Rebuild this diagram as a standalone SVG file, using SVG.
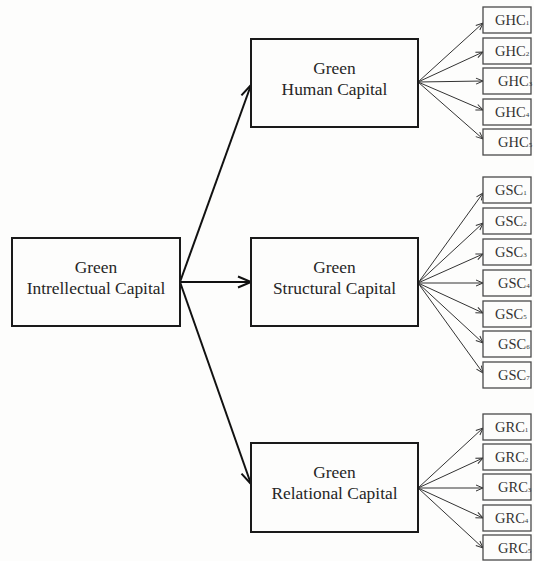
<svg xmlns="http://www.w3.org/2000/svg" width="534" height="561" viewBox="0 0 534 561">
<style>
.bg{fill:#fdfdfc}
.box{fill:#fdfdfc;stroke:#1a1a1a;stroke-width:2}
.sbox{fill:#fdfdfc;stroke:#4a4a4a;stroke-width:1.3}
.lbl{font-family:"Liberation Serif","Times New Roman",serif;font-size:17.4px;fill:#262626;text-anchor:middle}
.sl{font-family:"Liberation Serif","Times New Roman",serif;font-size:14.5px;fill:#333}
.sub{font-size:7px}
.main{stroke:#111;stroke-width:2;fill:none;marker-end:url(#big)}
.thin{stroke:#333;stroke-width:1;fill:none;marker-end:url(#small)}
</style>
<defs>
<marker id="big" markerUnits="userSpaceOnUse" markerWidth="16" markerHeight="14" viewBox="-14 -7 16 14" refX="0" refY="0" orient="auto">
<path d="M-13,-5.5 L0,0 L-13,5.5" fill="none" stroke="#111" stroke-width="2"/>
</marker>
<marker id="small" markerUnits="userSpaceOnUse" markerWidth="10" markerHeight="8" viewBox="-8 -4 10 8" refX="0" refY="0" orient="auto">
<path d="M-7,-3 L0,0 L-7,3" fill="none" stroke="#333" stroke-width="1"/>
</marker>
</defs>
<rect class="bg" x="0" y="0" width="534" height="561"/>

<g id="connectors">
<line class="main" x1="180" y1="282" x2="251" y2="85"/>
<line class="main" x1="180" y1="282" x2="251" y2="282"/>
<line class="main" x1="180" y1="282" x2="251" y2="484"/>

<line class="thin" x1="418" y1="82" x2="483" y2="23"/>
<line class="thin" x1="418" y1="82" x2="483" y2="52"/>
<line class="thin" x1="418" y1="82" x2="483" y2="81"/>
<line class="thin" x1="418" y1="82" x2="483" y2="110"/>
<line class="thin" x1="418" y1="82" x2="483" y2="139"/>

<line class="thin" x1="418" y1="283" x2="483" y2="193"/>
<line class="thin" x1="418" y1="283" x2="483" y2="223"/>
<line class="thin" x1="418" y1="283" x2="483" y2="254"/>
<line class="thin" x1="418" y1="283" x2="483" y2="283"/>
<line class="thin" x1="418" y1="283" x2="483" y2="313"/>
<line class="thin" x1="418" y1="283" x2="483" y2="343"/>
<line class="thin" x1="418" y1="283" x2="483" y2="373"/>

<line class="thin" x1="418" y1="488" x2="483" y2="428"/>
<line class="thin" x1="418" y1="488" x2="483" y2="458"/>
<line class="thin" x1="418" y1="488" x2="483" y2="488"/>
<line class="thin" x1="418" y1="488" x2="483" y2="518"/>
<line class="thin" x1="418" y1="488" x2="483" y2="548"/>
</g>

<g id="gic">
<rect class="box" x="12" y="238" width="168" height="88"/>
<text class="lbl" x="96" y="273">Green</text>
<text class="lbl" x="96" y="294">Intrellectual Capital</text>
</g>
<g id="ghc">
<rect class="box" x="251" y="39" width="167" height="88"/>
<text class="lbl" x="334.5" y="74">Green</text>
<text class="lbl" x="334.5" y="95">Human Capital</text>
</g>
<g id="gsc">
<rect class="box" x="251" y="238" width="167" height="88"/>
<text class="lbl" x="334.5" y="273">Green</text>
<text class="lbl" x="334.5" y="294">Structural Capital</text>
</g>
<g id="grc">
<rect class="box" x="251" y="443" width="167" height="89"/>
<text class="lbl" x="334.5" y="478">Green</text>
<text class="lbl" x="334.5" y="499">Relational Capital</text>
</g>

<g id="ghc1"><rect class="sbox" x="483" y="7" width="48" height="26"/><text class="sl" x="495" y="25">GHC<tspan class="sub">1</tspan></text></g>
<g id="ghc2"><rect class="sbox" x="483" y="38" width="48" height="26"/><text class="sl" x="495" y="56">GHC<tspan class="sub">2</tspan></text></g>
<g id="ghc3"><rect class="sbox" x="483" y="68" width="48" height="26"/><text class="sl" x="498" y="86">GHC<tspan class="sub">3</tspan></text></g>
<g id="ghc4"><rect class="sbox" x="483" y="99" width="48" height="26"/><text class="sl" x="495" y="117">GHC<tspan class="sub">4</tspan></text></g>
<g id="ghc5"><rect class="sbox" x="483" y="129" width="48" height="26"/><text class="sl" x="498" y="147">GHC<tspan class="sub">5</tspan></text></g>

<g id="gsc1"><rect class="sbox" x="483" y="177" width="48" height="26"/><text class="sl" x="495" y="195">GSC<tspan class="sub">1</tspan></text></g>
<g id="gsc2"><rect class="sbox" x="483" y="208" width="48" height="26"/><text class="sl" x="495" y="226">GSC<tspan class="sub">2</tspan></text></g>
<g id="gsc3"><rect class="sbox" x="483" y="239" width="48" height="26"/><text class="sl" x="495" y="257">GSC<tspan class="sub">3</tspan></text></g>
<g id="gsc4"><rect class="sbox" x="483" y="270" width="48" height="26"/><text class="sl" x="498" y="288">GSC<tspan class="sub">4</tspan></text></g>
<g id="gsc5"><rect class="sbox" x="483" y="301" width="48" height="26"/><text class="sl" x="495" y="319">GSC<tspan class="sub">5</tspan></text></g>
<g id="gsc6"><rect class="sbox" x="483" y="331" width="48" height="26"/><text class="sl" x="498" y="349">GSC<tspan class="sub">6</tspan></text></g>
<g id="gsc7"><rect class="sbox" x="483" y="362" width="48" height="26"/><text class="sl" x="498" y="380">GSC<tspan class="sub">7</tspan></text></g>

<g id="grc1"><rect class="sbox" x="483" y="414" width="48" height="26"/><text class="sl" x="495" y="432">GRC<tspan class="sub">1</tspan></text></g>
<g id="grc2"><rect class="sbox" x="483" y="444" width="48" height="26"/><text class="sl" x="495" y="462">GRC<tspan class="sub">2</tspan></text></g>
<g id="grc3"><rect class="sbox" x="483" y="474" width="48" height="26"/><text class="sl" x="498" y="492">GRC<tspan class="sub">3</tspan></text></g>
<g id="grc4"><rect class="sbox" x="483" y="505" width="48" height="26"/><text class="sl" x="495" y="523">GRC<tspan class="sub">4</tspan></text></g>
<g id="grc5"><rect class="sbox" x="483" y="535" width="48" height="25"/><text class="sl" x="498" y="553">GRC<tspan class="sub">5</tspan></text></g>
</svg>
